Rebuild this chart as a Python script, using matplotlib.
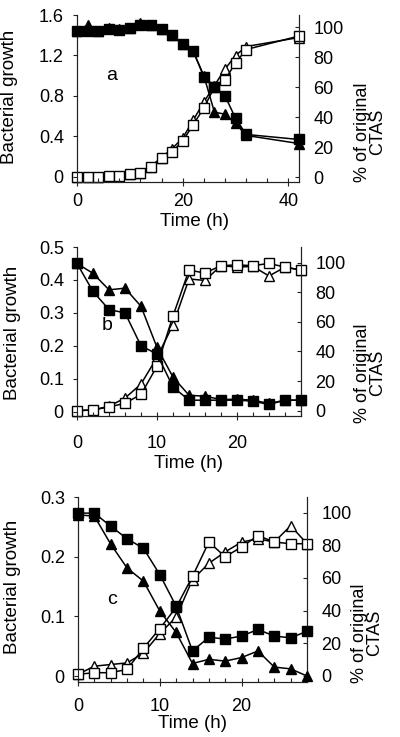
import matplotlib
matplotlib.use("Agg")
import matplotlib.pyplot as plt
from matplotlib.ticker import MultipleLocator, FixedLocator

plt.rcParams['font.family'] = ['Liberation Sans', 'DejaVu Sans']

W, H = 400, 737

# ---------------- data ----------------
# Panel a
a_time = [0, 2, 4, 6, 8, 10, 12, 14, 16, 18, 20, 22, 24, 26, 28, 30, 32, 42]
a_growth_sq = [1.44, 1.44, 1.44, 1.46, 1.45, 1.47, 1.50, 1.50, 1.46, 1.40, 1.31, 1.24, 0.99, 0.89, 0.80, 0.58, 0.42, 0.37]
a_growth_tri = [1.44, 1.50, 1.44, 1.47, 1.46, 1.47, 1.52, 1.50, 1.46, 1.40, 1.31, 1.24, 1.00, 0.64, 0.62, 0.53, 0.41, 0.33]
a_ctas_sq = [0, 0, 0, 1, 1, 2, 3, 7, 13, 17, 24, 35, 46, 60, 65, 76, 85, 94]
a_ctas_tri = [0, 0, 0, 1, 1, 2, 3, 7, 13, 19, 26, 38, 50, 61, 72, 81, 87, 93]

# Panel b
b_time = [0, 2, 4, 6, 8, 10, 12, 14, 16, 18, 20, 22, 24, 26, 28]
b_growth_sq = [0.45, 0.365, 0.31, 0.30, 0.20, 0.175, 0.075, 0.035, 0.035, 0.035, 0.035, 0.032, 0.022, 0.035, 0.035]
b_growth_tri = [0.45, 0.42, 0.37, 0.375, 0.32, 0.195, 0.105, 0.05, 0.047, 0.037, 0.038, 0.035, 0.025, 0.035, 0.035]
b_ctas_sq = [0, 0.5, 2.5, 5, 11, 30, 64, 95, 93, 98, 98.5, 98, 99.5, 97, 95]
b_ctas_tri = [0, 0.5, 3, 8.5, 18, 36, 58, 89, 88, 98, 97, 97.5, 91, 97, 95]

# Panel c
c_time = [0, 2, 4, 6, 8, 10, 12, 14, 16, 18, 20, 22, 24, 26, 28]
c_growth_sq = [0.273, 0.273, 0.251, 0.230, 0.214, 0.170, 0.117, 0.042, 0.065, 0.062, 0.067, 0.078, 0.067, 0.064, 0.075]
c_growth_tri = [0.27, 0.268, 0.221, 0.181, 0.159, 0.109, 0.073, 0.021, 0.028, 0.025, 0.031, 0.042, 0.015, 0.012, 0.0]
c_ctas_sq = [1, 2, 2, 4, 17, 29, 42, 61, 82, 73, 79, 86, 82, 81, 81]
c_ctas_tri = [1, 6, 7, 8, 14, 26, 36, 59, 69, 76, 82, 84, 82, 92, 81]

# tick labels
a_yticks = [0, 0.4, 0.8, 1.2, 1.6]
a_ylabels = ["0", "0.4", "0.8", "1.2", "1.6"]
b_yticks = [0, 0.1, 0.2, 0.3, 0.4, 0.5]
b_ylabels = ["0", "0.1", "0.2", "0.3", "0.4", "0.5"]
c_yticks = [0, 0.1, 0.2, 0.3]
c_ylabels = ["0", "0.1", "0.2", "0.3"]
a_xticks = [0, 20, 40]
bc_xticks = [0, 10, 20]
pct_ticks = [0, 20, 40, 60, 80, 100]

panel_letters = ["a", "b", "c"]
xlabel_text = "Time (h)"
ylabel_text = "Bacterial growth"
y2_text = "% of original\nCTAS"

# ---------------- layout ----------------
fig = plt.figure(figsize=(W / 100, H / 100), dpi=100)


def rect(l, t, r, b):
    return [l / W, 1 - b / H, (r - l) / W, (b - t) / H]


def fx(x):
    return x / W


def fy(y):
    return 1 - y / H


panels = [
    dict(rect=rect(77, 15, 299, 182), t=a_time, gsq=a_growth_sq, gtri=a_growth_tri,
         csq=a_ctas_sq, ctri=a_ctas_tri, xlim=(0, 42), xticks=a_xticks, xminor=4,
         ylim=(-0.05, 1.6), yticks=a_yticks, ylabels=a_ylabels, y2lim=(-3.3, 108),
         letter_xy=(112, 75), xpad=5.0, xlabel_xy=(195, 221), ylabel_xy=(10, 97),
         y2_xy=(370, 132)),
    dict(rect=rect(77, 247, 301, 416), t=b_time, gsq=b_growth_sq, gtri=b_growth_tri,
         csq=b_ctas_sq, ctri=b_ctas_tri, xlim=(0, 28), xticks=bc_xticks, xminor=2,
         ylim=(-0.013, 0.5), yticks=b_yticks, ylabels=b_ylabels, y2lim=(-3.6, 110.6),
         letter_xy=(107, 325), xpad=10.5, xlabel_xy=(189, 463), ylabel_xy=(13, 333),
         y2_xy=(370, 373)),
    dict(rect=rect(78, 497, 307, 682), t=c_time, gsq=c_growth_sq, gtri=c_growth_tri,
         csq=c_ctas_sq, ctri=c_ctas_tri, xlim=(0, 28), xticks=bc_xticks, xminor=2,
         ylim=(-0.01, 0.3), yticks=c_yticks, ylabels=c_ylabels, y2lim=(-3.7, 109.6),
         letter_xy=(112, 600), xpad=8.5, xlabel_xy=(192.5, 724), ylabel_xy=(13, 587),
         y2_xy=(367, 633)),
]

FS_TICK = 13
FS_LAB = 13.5
LW = 1.1
MS_SQ = 6.8
MS_TRI = 7.8

for i, p in enumerate(panels):
    ax = fig.add_axes(p['rect'])
    ax2 = ax.twinx()

    # right-axis series (open symbols)
    ax2.plot(p['t'], p['ctri'], '-^', color='black', lw=LW, ms=MS_TRI, mfc='white',
             mec='black', mew=1.0, clip_on=False, zorder=3)
    ax2.plot(p['t'], p['csq'], '-s', color='black', lw=LW, ms=MS_SQ, mfc='white',
             mec='black', mew=1.0, clip_on=False, zorder=4)
    # left-axis series (filled symbols)
    ax.plot(p['t'], p['gtri'], '-^', color='black', lw=LW, ms=MS_TRI, mfc='black',
            mec='black', clip_on=False, zorder=3)
    ax.plot(p['t'], p['gsq'], '-s', color='black', lw=LW, ms=MS_SQ, mfc='black',
            mec='black', clip_on=False, zorder=4)
    ax.set_zorder(ax2.get_zorder() + 1)
    ax.patch.set_visible(False)

    ax.set_xlim(*p['xlim'])
    ax.set_ylim(*p['ylim'])
    ax2.set_ylim(*p['y2lim'])

    ax.xaxis.set_major_locator(FixedLocator(p['xticks']))
    ax.xaxis.set_minor_locator(MultipleLocator(p['xminor']))
    ax.set_yticks(p['yticks'])
    ax.set_yticklabels(p['ylabels'])
    ax2.set_yticks(pct_ticks)
    ax2.set_yticklabels([str(v) for v in pct_ticks])

    for a in (ax, ax2):
        a.spines['top'].set_visible(False)
        for s in a.spines.values():
            s.set_linewidth(0.8)
            s.set_color('#222222')

    ax.tick_params(axis='x', which='major', direction='inout', length=6, width=0.8,
                   labelsize=FS_TICK, pad=p['xpad'], color='#222222')
    ax.tick_params(axis='x', which='minor', direction='in', length=3, width=0.8,
                   color='#222222')
    ax.tick_params(axis='y', direction='out', length=3, width=0.8, labelsize=FS_TICK,
                   pad=6.5, color='#222222')
    ax2.tick_params(axis='y', direction='in', length=3, width=0.8, labelsize=FS_TICK,
                    pad=10.5, color='#222222')

    # panel letter
    fig.text(fx(p['letter_xy'][0]), fy(p['letter_xy'][1]), panel_letters[i],
             fontsize=14, ha='center', va='center')
    # x label
    fig.text(fx(p['xlabel_xy'][0]), fy(p['xlabel_xy'][1]), xlabel_text,
             fontsize=FS_LAB, ha='center', va='center')
    # left y label
    fig.text(fx(p['ylabel_xy'][0]), fy(p['ylabel_xy'][1]), ylabel_text,
             fontsize=FS_LAB, ha='center', va='center', rotation=90)
    # right y label (two lines)
    fig.text(fx(p['y2_xy'][0]), fy(p['y2_xy'][1]), y2_text,
             fontsize=13, ha='center', va='center', rotation=90,
             multialignment='center', linespacing=0.9)

fig.savefig("out.png", dpi=100)
